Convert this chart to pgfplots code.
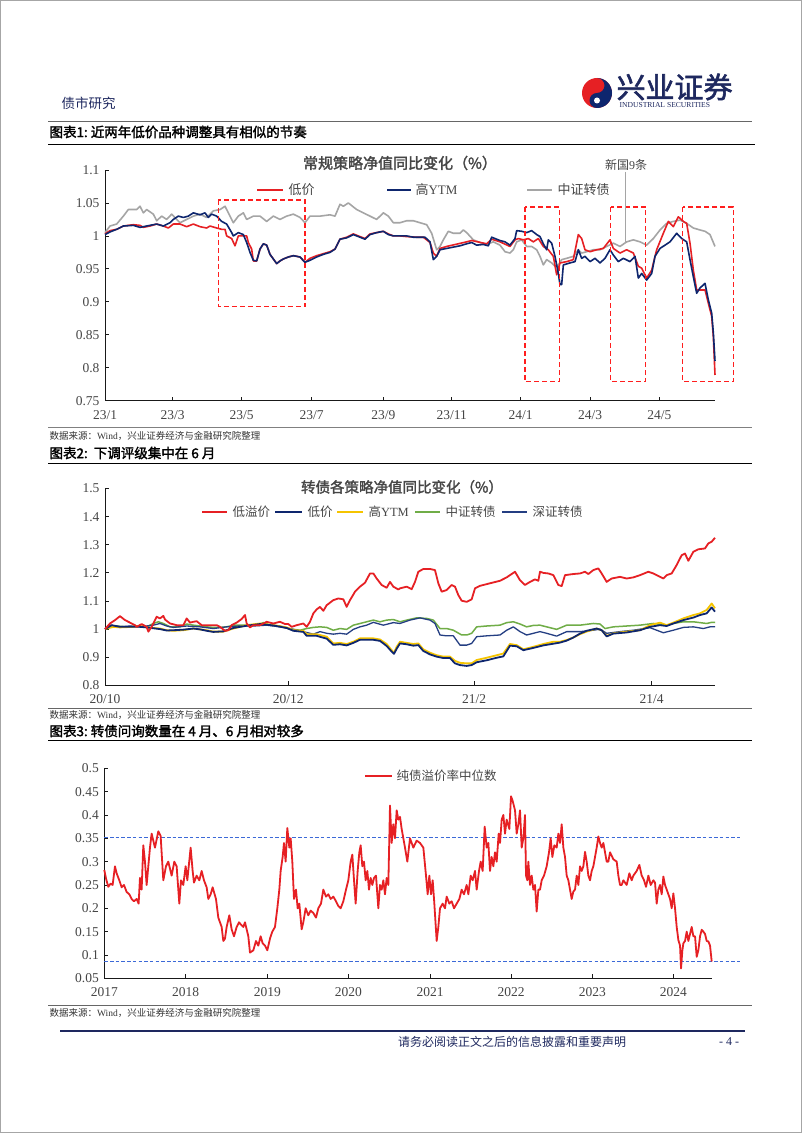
\documentclass[border=0pt]{standalone}
\usepackage{pgfplots}
\pgfplotsset{compat=1.18}
\usepackage{fontspec}
\setmainfont{Liberation Serif}
\newfontfamily\cjk{Noto Sans CJK SC}
\newfontfamily\cjkb[FakeBold=2]{Noto Sans CJK SC}

\definecolor{sred}{RGB}{230,32,36}
\definecolor{snavy}{RGB}{14,38,110}
\definecolor{sgray}{RGB}{165,165,165}
\definecolor{syellow}{RGB}{245,196,0}
\definecolor{sgreen}{RGB}{112,173,71}
\definecolor{snavyb}{RGB}{36,62,130}
\definecolor{boxred}{RGB}{255,30,30}
\definecolor{refblue}{RGB}{60,105,215}
\definecolor{txtgray}{RGB}{70,70,70}
\definecolor{logoblue}{RGB}{30,40,95}

% x positions are read from the page: pixel = 40 + x/3
\pgfplotsset{pagechart/.style={
  scale only axis, anchor=south west, width=610pt,
  axis x line*=bottom, axis y line*=left,
  axis line style={line width=1pt, black!90},
  tick align=inside, major tick length=4pt,
  tick style={line width=0.8pt, black!90},
  ticklabel style={font=\fontsize{13.5}{15}\selectfont, text=txtgray},
  xticklabel style={yshift=-6pt},
  yticklabel style={xshift=-2pt},
  /pgf/number format/assume math mode=true,
  clip=false,
  every axis plot/.append style={line join=round, no marks},
}}

\begin{document}
\begin{tikzpicture}[x=1pt,y=1pt]
\path[fill=white] (0,0) rectangle (802,1133);
\draw[black!35, line width=0.8pt] (0.5,0.5) rectangle (801.5,1132.5);

% header
\node[anchor=west, text=logoblue] at (58,1030) {\cjk\fontsize{13.5}{15}\selectfont 债市研究};
\fill[color=sred] (597,1040) circle (15);
\fill[color=snavy] (597,1055) arc (90:-90:15) arc (270:90:7.5) arc (-90:90:7.5);
\fill[white] (597,1032.5) circle (3);
\fill[color=sred] (597,1047.5) circle (3);
\node[anchor=west, text=logoblue] at (613,1046) {\cjkb\fontsize{29}{31}\selectfont 兴业证券};
\node[anchor=west, text=logoblue] at (616,1027.5) {\fontsize{7.6}{9}\selectfont INDUSTRIAL SECURITIES};
\draw[black!60, line width=0.8pt] (48,1012) -- (752,1012);
\node[anchor=west] at (46,1001) {\cjkb\fontsize{13.5}{15}\selectfont 图表1:\ 近两年低价品种调整具有相似的节奏};
\draw[black, line width=1pt] (48,988) -- (755,988);

% ---------- chart 1 ----------
\begin{axis}[pagechart, at={(105pt,732.3pt)}, height=230.7pt,
  xmin=195, xmax=2025, ymin=0.75, ymax=1.1,
  ytick={0.75,0.8,0.85,0.9,0.95,1,1.05,1.1},
  yticklabels={0.75,0.8,0.85,0.9,0.95,1,1.05,1.1},
  xtick={195,398,605,815,1030,1235,1442,1650,1858},
  xticklabels={23/1,23/3,23/5,23/7,23/9,23/11,24/1,24/3,24/5}]
\addplot[color=sgray, line width=1.6pt] coordinates {
(195,1.005) (210,1.015) (230,1.018) (250,1.03) (265,1.04) (290,1.04) (300,1.045) (310,1.035) (320,1.04) (340,1.033) (350,1.023) (365,1.03) (380,1.025) (395,1.033) (410,1.025) (420,1.02) (440,1.025) (460,1.03) (480,1.033) (500,1.028) (520,1.038) (540,1.04) (555,1.045) (565,1.035) (580,1.02) (595,1.03) (610,1.035) (620,1.025) (640,1.03) (660,1.03) (680,1.022) (700,1.03) (720,1.025) (740,1.03) (760,1.033) (780,1.028) (795,1.02) (810,1.03) (840,1.03) (870,1.032) (885,1.03) (900,1.048) (910,1.045) (925,1.05) (950,1.04) (970,1.035) (990,1.03) (1010,1.025) (1030,1.035) (1045,1.03) (1060,1.02) (1080,1.02) (1100,1.023) (1120,1.023) (1140,1.02) (1160,1.017) (1175,1.004) (1190,0.979) (1200,0.984) (1210,0.994) (1225,1.007) (1240,1.004) (1260,1.004) (1270,1.009) (1280,1.005) (1300,0.994) (1320,0.99) (1340,0.987) (1360,0.991) (1380,0.986) (1395,0.976) (1410,0.974) (1420,0.979) (1430,0.991) (1445,0.994) (1460,0.984) (1475,0.984) (1490,0.979) (1500,0.969) (1510,0.956) (1520,0.964) (1535,0.959) (1545,0.954) (1555,0.956) (1565,0.964) (1580,0.966) (1600,0.969) (1615,0.979) (1625,0.974) (1640,0.976) (1660,0.979) (1680,0.979) (1700,0.984) (1720,0.989) (1740,0.984) (1760,0.991) (1780,0.994) (1800,0.991) (1820,0.986) (1840,0.996) (1860,1.009) (1880,1.019) (1900,1.022) (1920,1.024) (1940,1.019) (1960,1.012) (1980,1.009) (1995,1.007) (2010,1.002) (2025,0.984)};
\addplot[color=sred, line width=1.6pt] coordinates {
(195,1.003) (210,1.008) (230,1.01) (250,1.015) (280,1.017) (300,1.016) (310,1.013) (330,1.015) (350,1.018) (370,1.015) (385,1.012) (400,1.018) (420,1.018) (440,1.014) (460,1.018) (480,1.014) (500,1.012) (510,1.015) (530,1.012) (545,1.01) (555,1.01) (560,1.0) (575,0.996) (585,0.985) (595,1.0) (620,1.0) (625,0.99) (635,0.98) (640,0.962) (650,0.962) (660,0.98) (670,0.988) (680,0.986) (690,0.972) (700,0.965) (710,0.958) (720,0.962) (730,0.965) (745,0.968) (760,0.97) (780,0.968) (795,0.96) (810,0.966) (830,0.97) (850,0.973) (870,0.976) (885,0.98) (900,0.995) (920,0.998) (940,1.003) (960,0.999) (975,0.996) (990,1.003) (1010,1.005) (1030,1.007) (1045,1.003) (1060,1.0) (1080,1.0) (1100,0.999) (1130,0.998) (1150,0.998) (1170,0.99) (1180,0.974) (1190,0.969) (1200,0.981) (1220,0.984) (1280,0.991) (1295,0.993) (1340,0.988) (1355,0.995) (1380,0.991) (1410,0.984) (1425,0.994) (1435,0.996) (1450,0.994) (1465,0.996) (1480,0.991) (1495,0.996) (1510,0.984) (1525,0.979) (1540,0.969) (1550,0.941) (1560,0.959) (1580,0.961) (1600,0.964) (1615,1.002) (1625,0.996) (1635,0.979) (1650,0.976) (1670,0.979) (1690,0.981) (1710,0.994) (1720,0.981) (1740,0.974) (1760,0.979) (1780,0.974) (1795,0.954) (1805,0.951) (1820,0.936) (1835,0.948) (1850,0.979) (1870,1.004) (1885,1.022) (1900,1.014) (1915,1.029) (1930,1.022) (1940,1.019) (1950,0.989) (1960,0.948) (1970,0.918) (1980,0.918) (1995,0.918) (2005,0.898) (2015,0.878) (2020,0.847) (2025,0.789)};
\addplot[color=snavy, line width=1.6pt] coordinates {
(195,1.002) (210,1.006) (230,1.01) (250,1.015) (280,1.016) (300,1.013) (330,1.016) (350,1.018) (370,1.015) (390,1.02) (400,1.025) (415,1.03) (430,1.028) (445,1.03) (460,1.035) (480,1.032) (495,1.035) (505,1.028) (515,1.033) (530,1.03) (545,1.022) (560,1.018) (575,1.005) (580,1.0) (595,1.005) (610,1.002) (620,0.99) (630,0.975) (640,0.963) (650,0.962) (660,0.98) (670,0.988) (680,0.986) (690,0.972) (700,0.965) (710,0.958) (720,0.962) (730,0.965) (745,0.968) (760,0.97) (780,0.968) (795,0.96) (810,0.963) (830,0.968) (850,0.972) (870,0.975) (885,0.98) (900,0.995) (920,0.997) (940,1.002) (960,0.998) (975,0.995) (990,1.002) (1010,1.005) (1030,1.007) (1045,1.002) (1060,1.0) (1080,1.0) (1100,1.0) (1120,0.998) (1155,0.998) (1170,0.991) (1180,0.964) (1190,0.969) (1200,0.979) (1220,0.981) (1240,0.983) (1260,0.985) (1280,0.988) (1295,0.99) (1310,0.986) (1330,0.987) (1345,0.985) (1355,0.998) (1370,0.995) (1380,0.993) (1395,0.991) (1410,0.986) (1425,0.996) (1430,1.008) (1445,1.007) (1460,1.005) (1475,1.008) (1490,1.002) (1500,0.999) (1510,0.988) (1520,0.979) (1525,0.994) (1535,0.989) (1545,0.969) (1555,0.943) (1560,0.926) (1565,0.926) (1570,0.956) (1590,0.959) (1605,0.961) (1615,0.979) (1625,0.966) (1635,0.969) (1650,0.961) (1665,0.966) (1680,0.959) (1695,0.966) (1710,0.979) (1720,0.971) (1735,0.961) (1750,0.966) (1770,0.961) (1785,0.969) (1795,0.936) (1805,0.943) (1820,0.933) (1835,0.943) (1845,0.969) (1860,0.981) (1875,0.986) (1890,0.991) (1910,1.004) (1925,0.996) (1940,0.991) (1950,0.964) (1960,0.938) (1970,0.913) (1980,0.921) (1995,0.928) (2005,0.903) (2015,0.883) (2020,0.853) (2025,0.81)};
% dashed boxes
\draw[color=boxred, line width=1.3pt, dash pattern=on 5pt off 3pt] (axis cs:535,1.0545) rectangle (axis cs:795,0.893);
\draw[color=boxred, line width=1.3pt, dash pattern=on 5pt off 3pt] (axis cs:1455,1.044) rectangle (axis cs:1558,0.779);
\draw[color=boxred, line width=1.3pt, dash pattern=on 5pt off 3pt] (axis cs:1712,1.044) rectangle (axis cs:1817,0.779);
\draw[color=boxred, line width=1.3pt, dash pattern=on 5pt off 3pt] (axis cs:1928,1.044) rectangle (axis cs:2080,0.779);
\end{axis}
\node[text=txtgray] at (400,970) {\cjkb\fontsize{15}{17}\selectfont 常规策略净值同比变化（\%）};
\draw[color=sred, line width=2pt] (257,943) -- (283,943);
\node[anchor=west, text=txtgray] at (285,943) {\cjk\fontsize{13}{15}\selectfont 低价};
\draw[color=snavy, line width=2pt] (387,943) -- (411,943);
\node[anchor=west, text=txtgray] at (412,943) {\cjk\fontsize{13}{15}\selectfont 高{\rmfamily YTM}};
\draw[color=sgray, line width=2pt] (527,943) -- (552,943);
\node[anchor=west, text=txtgray] at (554,943) {\cjk\fontsize{13}{15}\selectfont 中证转债};
\node[text=txtgray] at (626,968) {\cjk\fontsize{12}{14}\selectfont 新国{\rmfamily 9}条};
\draw[color=sgray, line width=1pt] (625.5,961) -- (625.5,891);

\draw[black!50, line width=0.8pt] (48,706) -- (752,706);
\node[anchor=west, text=black!80] at (46,697) {\cjk\fontsize{9.5}{11}\selectfont 数据来源：{\rmfamily Wind}，兴业证券经济与金融研究院整理};
\node[anchor=west] at (46,680) {\cjkb\fontsize{13.5}{15}\selectfont 图表2:\ \ 下调评级集中在 6 月};
\draw[black, line width=1pt] (48,669) -- (752,669);

% ---------- chart 2 ----------
\begin{axis}[pagechart, at={(105pt,447.7pt)}, height=196.7pt,
  xmin=195, xmax=2025, ymin=0.8, ymax=1.5,
  ytick={0.8,0.9,1,1.1,1.2,1.3,1.4,1.5},
  yticklabels={0.8,0.9,1,1.1,1.2,1.3,1.4,1.5},
  xtick={195,745,1302,1835},
  xticklabels={20/10,20/12,21/2,21/4}]
\addplot[color=sgreen, line width=1.5pt] coordinates {
(195,1.0) (210,1.008) (230,1.011) (260,1.008) (290,1.011) (320,1.008) (340,1.02) (355,1.026) (370,1.02) (390,1.008) (420,1.008) (440,1.018) (460,1.014) (480,1.011) (500,1.008) (520,1.006) (540,1.006) (560,1.008) (580,1.014) (620,1.014) (650,1.014) (670,1.023) (690,1.014) (720,1.011) (745,1.002) (760,0.999) (780,0.996) (800,1.002) (820,1.006) (840,1.008) (860,1.006) (880,0.996) (900,1.002) (920,0.999) (940,1.014) (960,1.02) (980,1.026) (1000,1.032) (1020,1.026) (1040,1.032) (1060,1.034) (1080,1.026) (1100,1.032) (1130,1.04) (1160,1.038) (1180,1.032) (1200,1.002) (1220,1.002) (1240,0.996) (1265,0.979) (1280,0.979) (1295,0.985) (1310,1.008) (1340,1.011) (1380,1.014) (1400,1.023) (1420,1.026) (1440,1.018) (1460,1.008) (1480,1.013) (1500,1.014) (1520,1.008) (1550,0.999) (1580,1.014) (1620,1.014) (1660,1.02) (1680,1.018) (1695,1.002) (1720,1.008) (1760,1.011) (1800,1.014) (1840,1.02) (1880,1.014) (1900,1.02) (1930,1.026) (1960,1.026) (1980,1.023) (2000,1.02) (2015,1.024) (2025,1.024)};
\addplot[color=snavyb, line width=1.3pt] coordinates {
(195,1.0) (210,1.014) (240,1.008) (270,1.011) (300,1.008) (340,1.014) (360,1.02) (380,1.011) (400,1.006) (440,1.011) (480,1.008) (520,1.002) (560,1.008) (600,1.011) (640,1.011) (680,1.014) (720,1.008) (760,0.999) (790,0.991) (820,0.982) (840,0.991) (860,0.985) (880,0.982) (900,0.985) (920,0.982) (940,0.999) (960,1.008) (980,1.014) (1000,1.024) (1030,1.014) (1060,1.023) (1080,1.02) (1110,1.032) (1140,1.04) (1170,1.032) (1185,1.02) (1200,0.979) (1220,0.976) (1240,0.976) (1260,0.943) (1280,0.943) (1295,0.949) (1310,0.973) (1340,0.976) (1380,0.979) (1400,0.996) (1420,1.008) (1440,0.991) (1460,0.979) (1480,0.985) (1500,0.991) (1520,0.985) (1550,0.975) (1580,0.991) (1620,0.991) (1660,0.996) (1680,1.0) (1700,0.985) (1740,0.991) (1780,0.996) (1830,1.005) (1870,0.987) (1900,0.996) (1930,1.006) (1960,1.008) (1990,1.002) (2010,1.008) (2025,1.008)};
\addplot[color=syellow, line width=1.8pt] coordinates {
(195,1.0) (220,1.008) (240,1.006) (280,1.008) (300,1.011) (320,1.006) (360,1.002) (380,0.996) (400,0.994) (430,0.996) (460,1.002) (480,0.999) (500,0.996) (520,0.991) (550,0.991) (580,1.002) (620,1.014) (660,1.02) (700,1.014) (740,1.006) (760,0.996) (790,0.994) (800,0.982) (830,0.982) (860,0.973) (880,0.949) (900,0.951) (920,0.947) (940,0.955) (960,0.967) (1000,0.967) (1020,0.963) (1040,0.947) (1055,0.925) (1062,0.916) (1070,0.937) (1080,0.955) (1100,0.951) (1120,0.947) (1135,0.949) (1150,0.928) (1170,0.916) (1190,0.907) (1210,0.902) (1230,0.902) (1245,0.887) (1260,0.88) (1280,0.878) (1295,0.878) (1310,0.89) (1340,0.898) (1370,0.907) (1390,0.913) (1410,0.947) (1430,0.943) (1450,0.928) (1480,0.937) (1510,0.947) (1540,0.955) (1560,0.955) (1580,0.961) (1600,0.97) (1620,0.982) (1640,0.991) (1670,1.002) (1685,0.996) (1700,0.976) (1720,0.985) (1760,0.991) (1800,0.996) (1830,1.014) (1860,1.023) (1880,1.014) (1900,1.023) (1930,1.038) (1960,1.05) (1980,1.056) (2000,1.068) (2015,1.091) (2025,1.074)};
\addplot[color=snavy, line width=1.8pt] coordinates {
(195,1.0) (215,1.014) (240,1.008) (280,1.008) (300,1.008) (320,1.006) (360,1.0) (380,0.995) (400,0.996) (430,0.998) (460,1.002) (480,0.999) (500,0.994) (520,0.99) (550,0.992) (580,1.004) (620,1.012) (660,1.018) (700,1.013) (740,1.004) (760,0.994) (790,0.99) (800,0.976) (830,0.976) (860,0.966) (880,0.944) (900,0.946) (920,0.942) (940,0.951) (960,0.962) (1000,0.962) (1020,0.958) (1040,0.94) (1055,0.92) (1062,0.912) (1070,0.93) (1080,0.949) (1100,0.946) (1120,0.941) (1135,0.943) (1150,0.922) (1170,0.91) (1190,0.902) (1210,0.897) (1230,0.897) (1245,0.878) (1260,0.872) (1280,0.869) (1295,0.872) (1310,0.882) (1340,0.889) (1370,0.898) (1390,0.903) (1410,0.941) (1430,0.939) (1450,0.925) (1480,0.933) (1510,0.942) (1540,0.948) (1560,0.952) (1580,0.959) (1600,0.97) (1620,0.984) (1640,0.994) (1670,1.002) (1685,0.996) (1700,0.974) (1720,0.984) (1760,0.988) (1800,0.996) (1830,1.008) (1860,1.014) (1880,1.011) (1900,1.02) (1930,1.032) (1960,1.041) (1980,1.05) (2000,1.056) (2015,1.077) (2025,1.062)};
\addplot[color=sred, line width=1.8pt] coordinates {
(195,1.0) (210,1.02) (225,1.032) (240,1.046) (255,1.032) (270,1.023) (285,1.014) (290,1.008) (305,1.018) (320,1.008) (325,0.991) (335,1.008) (350,1.044) (360,1.038) (370,1.047) (375,1.034) (390,1.02) (410,1.014) (430,1.014) (440,1.038) (450,1.023) (460,1.026) (470,1.028) (485,1.014) (530,1.014) (540,1.008) (555,0.994) (565,0.996) (575,1.014) (590,1.023) (605,1.036) (615,1.05) (620,1.02) (630,1.006) (640,1.014) (660,1.014) (680,1.026) (700,1.02) (720,1.026) (735,1.018) (745,1.018) (755,1.008) (770,1.014) (790,1.02) (800,1.008) (810,1.026) (820,1.056) (830,1.07) (840,1.079) (850,1.065) (860,1.085) (870,1.094) (880,1.103) (895,1.109) (910,1.106) (920,1.079) (930,1.103) (945,1.133) (960,1.151) (975,1.165) (990,1.198) (1000,1.198) (1010,1.18) (1025,1.157) (1040,1.147) (1050,1.168) (1060,1.151) (1075,1.141) (1080,1.145) (1100,1.151) (1115,1.142) (1125,1.168) (1135,1.204) (1150,1.214) (1170,1.214) (1185,1.21) (1195,1.163) (1205,1.133) (1220,1.139) (1235,1.157) (1245,1.151) (1255,1.121) (1265,1.101) (1280,1.097) (1295,1.106) (1305,1.145) (1320,1.154) (1340,1.16) (1360,1.166) (1380,1.172) (1400,1.184) (1425,1.204) (1440,1.174) (1455,1.157) (1470,1.168) (1485,1.177) (1495,1.172) (1500,1.204) (1510,1.2) (1525,1.198) (1540,1.192) (1555,1.157) (1565,1.153) (1575,1.192) (1600,1.196) (1620,1.198) (1635,1.204) (1645,1.196) (1660,1.21) (1675,1.216) (1685,1.198) (1700,1.168) (1715,1.18) (1740,1.186) (1760,1.18) (1780,1.184) (1800,1.192) (1825,1.204) (1840,1.198) (1855,1.189) (1870,1.18) (1880,1.192) (1895,1.198) (1910,1.228) (1925,1.263) (1935,1.269) (1945,1.243) (1960,1.275) (1975,1.284) (1995,1.287) (2005,1.305) (2015,1.311) (2025,1.325)};
\end{axis}
\node[text=txtgray] at (402,646) {\cjkb\fontsize{14.5}{16}\selectfont 转债各策略净值同比变化（\%）};
\draw[color=sred, line width=2pt] (202,621.3) -- (227,621.3);
\node[anchor=west, text=txtgray] at (229,621.3) {\cjk\fontsize{12.5}{14}\selectfont 低溢价};
\draw[color=snavy, line width=2pt] (275,621.3) -- (302,621.3);
\node[anchor=west, text=txtgray] at (304,621.3) {\cjk\fontsize{12.5}{14}\selectfont 低价};
\draw[color=syellow, line width=2pt] (337,621.3) -- (363,621.3);
\node[anchor=west, text=txtgray] at (365,621.3) {\cjk\fontsize{12.5}{14}\selectfont 高{\rmfamily YTM}};
\draw[color=sgreen, line width=2pt] (415,621.3) -- (440,621.3);
\node[anchor=west, text=txtgray] at (442,621.3) {\cjk\fontsize{12.5}{14}\selectfont 中证转债};
\draw[color=snavyb, line width=2pt] (502,621.3) -- (527,621.3);
\node[anchor=west, text=txtgray] at (529,621.3) {\cjk\fontsize{12.5}{14}\selectfont 深证转债};

\draw[black!60, line width=0.8pt] (48,425) -- (752,425);
\node[anchor=west, text=black!80] at (46,418) {\cjk\fontsize{9.5}{11}\selectfont 数据来源：{\rmfamily Wind}，兴业证券经济与金融研究院整理};
\node[anchor=west] at (46,402) {\cjkb\fontsize{13.5}{15}\selectfont 图表3:\ 转债问询数量在 4 月、6 月相对较多};
\draw[black, line width=1pt] (48,392) -- (752,392);

% ---------- chart 3 ----------
\begin{axis}[pagechart, at={(104.3pt,154.7pt)}, width=607.4pt, height=210pt,
  xmin=193, xmax=2015, ymin=0.05, ymax=0.5,
  ytick={0.05,0.1,0.15,0.2,0.25,0.3,0.35,0.4,0.45,0.5},
  yticklabels={0.05,0.1,0.15,0.2,0.25,0.3,0.35,0.4,0.45,0.5},
  xtick={193,437,682,925,1170,1413,1657,1900},
  xticklabels={2017,2018,2019,2020,2021,2022,2023,2024}]
\addplot[draw=refblue, line width=1pt, dash pattern=on 3.5pt off 2.2pt] coordinates {(193,0.352) (2100,0.352)};
\addplot[draw=refblue, line width=1pt, dash pattern=on 3.5pt off 2.2pt] coordinates {(193,0.352) (2100,0.352)};
\addplot[draw=refblue, line width=1pt, dash pattern=on 3.5pt off 2.2pt] coordinates {(193,0.087) (2100,0.087)};
\addplot[color=sred, line width=1.8pt] coordinates {
(193,0.282) (198,0.264) (205,0.246) (212,0.253) (218,0.25) (225,0.29) (230,0.275) (238,0.26) (245,0.245) (252,0.25) (260,0.235) (268,0.23) (275,0.22) (282,0.215) (290,0.22) (296,0.21) (300,0.265) (305,0.24) (310,0.335) (315,0.3) (320,0.25) (330,0.33) (335,0.36) (345,0.33) (355,0.365) (362,0.355) (370,0.26) (378,0.29) (385,0.3) (395,0.27) (403,0.3) (410,0.29) (418,0.21) (423,0.26) (430,0.25) (437,0.29) (442,0.26) (452,0.33) (458,0.28) (462,0.255) (470,0.27) (478,0.26) (485,0.28) (492,0.26) (500,0.245) (505,0.22) (512,0.23) (518,0.245) (528,0.22) (535,0.18) (545,0.16) (550,0.13) (555,0.135) (560,0.16) (568,0.185) (575,0.155) (582,0.14) (590,0.16) (597,0.17) (603,0.165) (610,0.16) (615,0.17) (620,0.155) (625,0.14) (630,0.105) (640,0.11) (648,0.13) (655,0.12) (662,0.14) (668,0.125) (675,0.12) (682,0.11) (690,0.135) (697,0.15) (705,0.16) (712,0.2) (718,0.24) (722,0.28) (728,0.31) (732,0.34) (737,0.3) (742,0.372) (748,0.33) (752,0.35) (757,0.3) (762,0.22) (768,0.24) (773,0.2) (778,0.21) (785,0.155) (790,0.17) (797,0.2) (805,0.185) (812,0.195) (820,0.19) (828,0.18) (835,0.2) (843,0.21) (850,0.24) (858,0.225) (865,0.23) (872,0.22) (880,0.225) (888,0.215) (895,0.205) (902,0.2) (910,0.215) (918,0.24) (925,0.26) (932,0.3) (937,0.315) (943,0.25) (947,0.21) (953,0.28) (958,0.32) (962,0.335) (967,0.29) (972,0.3) (977,0.26) (982,0.28) (987,0.24) (992,0.265) (997,0.25) (1002,0.265) (1008,0.27) (1015,0.2) (1020,0.25) (1025,0.24) (1030,0.26) (1035,0.23) (1040,0.265) (1045,0.25) (1050,0.42) (1055,0.34) (1060,0.38) (1065,0.35) (1070,0.41) (1075,0.39) (1080,0.396) (1085,0.37) (1090,0.35) (1095,0.33) (1102,0.3) (1110,0.35) (1120,0.33) (1130,0.345) (1140,0.34) (1150,0.33) (1158,0.27) (1163,0.23) (1168,0.27) (1173,0.23) (1178,0.26) (1183,0.21) (1190,0.13) (1195,0.16) (1200,0.2) (1208,0.21) (1215,0.2) (1220,0.225) (1228,0.21) (1235,0.215) (1242,0.2) (1250,0.21) (1258,0.22) (1265,0.24) (1272,0.23) (1280,0.25) (1285,0.23) (1292,0.27) (1298,0.26) (1305,0.28) (1310,0.24) (1317,0.28) (1322,0.3) (1328,0.28) (1334,0.375) (1340,0.33) (1345,0.34) (1350,0.28) (1355,0.31) (1360,0.29) (1365,0.32) (1370,0.3) (1376,0.36) (1380,0.34) (1385,0.39) (1390,0.4) (1395,0.36) (1400,0.39) (1408,0.37) (1413,0.44) (1418,0.43) (1425,0.41) (1430,0.36) (1435,0.38) (1440,0.41) (1445,0.33) (1450,0.35) (1455,0.4) (1458,0.27) (1462,0.26) (1465,0.3) (1470,0.25) (1475,0.27) (1480,0.24) (1485,0.25) (1490,0.193) (1495,0.24) (1500,0.24) (1505,0.26) (1512,0.27) (1520,0.29) (1527,0.32) (1532,0.35) (1537,0.31) (1543,0.335) (1550,0.33) (1555,0.36) (1560,0.34) (1565,0.38) (1570,0.33) (1575,0.31) (1580,0.27) (1585,0.26) (1590,0.24) (1595,0.22) (1600,0.236) (1605,0.24) (1610,0.27) (1615,0.25) (1620,0.29) (1625,0.28) (1630,0.29) (1635,0.321) (1640,0.3) (1645,0.27) (1650,0.26) (1655,0.28) (1660,0.29) (1665,0.31) (1670,0.33) (1675,0.354) (1680,0.34) (1685,0.33) (1690,0.34) (1695,0.32) (1700,0.3) (1705,0.3) (1710,0.32) (1720,0.305) (1730,0.3) (1735,0.27) (1740,0.25) (1745,0.25) (1750,0.26) (1760,0.25) (1768,0.275) (1775,0.26) (1780,0.27) (1790,0.28) (1798,0.293) (1805,0.27) (1812,0.26) (1818,0.246) (1825,0.27) (1832,0.25) (1840,0.26) (1845,0.255) (1850,0.21) (1855,0.24) (1860,0.25) (1865,0.23) (1870,0.268) (1875,0.25) (1880,0.24) (1885,0.23) (1890,0.22) (1895,0.2) (1900,0.232) (1905,0.2) (1910,0.16) (1915,0.132) (1920,0.12) (1923,0.071) (1927,0.11) (1930,0.125) (1935,0.13) (1940,0.15) (1945,0.13) (1950,0.145) (1955,0.16) (1960,0.14) (1965,0.14) (1970,0.096) (1975,0.11) (1980,0.14) (1985,0.154) (1990,0.15) (1995,0.145) (2000,0.13) (2005,0.129) (2010,0.12) (2015,0.086)};
\end{axis}
\draw[color=sred, line width=2pt] (365,357.3) -- (392,357.3);
\node[anchor=west, text=txtgray] at (393,357.3) {\cjk\fontsize{12.5}{14}\selectfont 纯债溢价率中位数};

\draw[black!60, line width=0.8pt] (48,128) -- (752,128);
\node[anchor=west, text=black!80] at (46,120) {\cjk\fontsize{9.5}{11}\selectfont 数据来源：{\rmfamily Wind}，兴业证券经济与金融研究院整理};

% footer
\draw[color=logoblue, line width=2pt] (60,102) -- (745,102);
\node[text=logoblue] at (512,91) {\cjk\fontsize{12}{14}\selectfont 请务必阅读正文之后的信息披露和重要声明};
\node[text=logoblue] at (729,91) {\fontsize{12}{14}\selectfont - 4 -};
\end{tikzpicture}
\end{document}
